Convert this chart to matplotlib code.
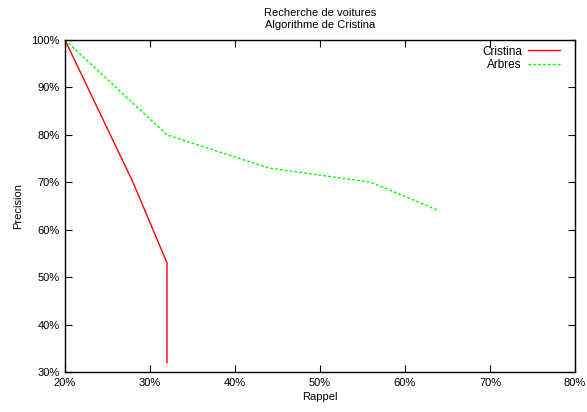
## import libraries
import matplotlib
matplotlib.use("Agg")
import matplotlib.pyplot as plt
from matplotlib.ticker import FuncFormatter, MultipleLocator

plt.rcParams['font.family'] = ['Liberation Sans', 'DejaVu Sans']

## data (recall %, precision %)
cristina_rappel = [20, 28, 32, 32]
cristina_precision = [100, 70, 53, 32]
arbres_rappel = [20, 32, 44, 56, 64]
arbres_precision = [100, 80, 73, 70, 64]

## plot
fg = plt.figure(figsize=(5.87, 4.12), dpi=100)
ax = fg.add_axes([65/587, 40/412, 510/587, 332/412])

ax.plot(cristina_rappel, cristina_precision, color='#ff0000', lw=1, label='Cristina')
ax.plot(arbres_rappel, arbres_precision, color='#00ff00', lw=1, ls=(0, (2, 1.5)), label='Arbres')

ax.set_xlim(20, 80)
ax.set_ylim(30, 100)
ax.xaxis.set_major_locator(MultipleLocator(10))
ax.yaxis.set_major_locator(MultipleLocator(10))
pct = FuncFormatter(lambda v, p: "%d%%" % v)
ax.xaxis.set_major_formatter(pct)
ax.yaxis.set_major_formatter(pct)
ax.tick_params(direction='in', top=True, right=True, length=5, labelsize=8, pad=4)
for s in ax.spines.values():
    s.set_linewidth(1)

ax.set_xlabel("Rappel", fontsize=8, labelpad=3)
ax.set_ylabel("Precision", fontsize=8, labelpad=6)
ax.set_title("Recherche de voitures\nAlgorithme de Cristina", fontsize=8, linespacing=1.25, pad=8.5)

ax.legend(loc='upper right', bbox_to_anchor=(0.986, 1.008), frameon=False, markerfirst=False,
          fontsize=8.5, handlelength=2.7, borderaxespad=0.3, labelspacing=0.12, handletextpad=0.5)

plt.savefig("out.png", dpi=100)
